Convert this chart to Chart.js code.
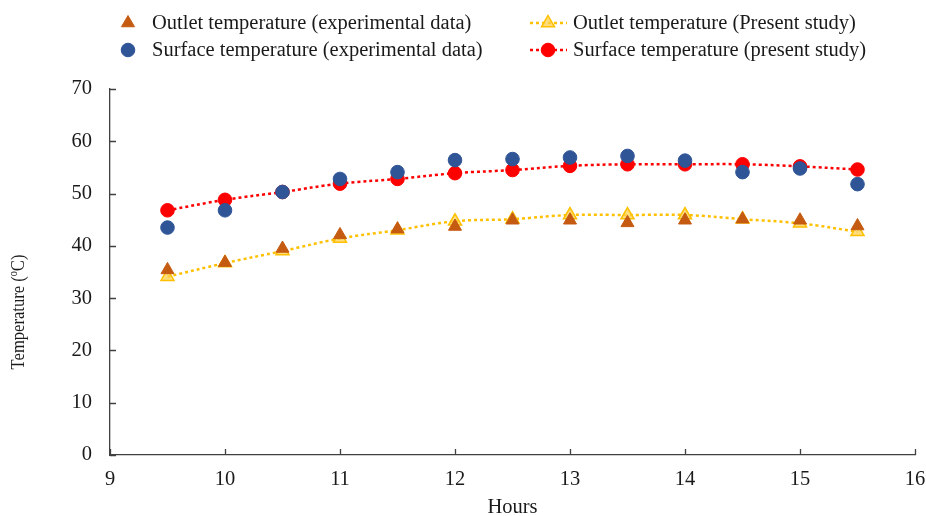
<!DOCTYPE html>
<html lang="en">
<head>
    <meta charset="UTF-8">
    <title>Outlet and surface temperature</title>
    <script src="https://cdn.jsdelivr.net/npm/chart.js"></script>
    <style>
        html, body { margin: 0; padding: 0; background: #fff; }
        .chart-box { width: 926px; height: 516px; position: relative; }
    </style>
</head>
<body>
    <div class="chart-box">
        <canvas id="tempChart"></canvas>
    </div>
    <script>
        // Hours of the day
        const hours = [9.5, 10, 10.5, 11, 11.5, 12, 12.5, 13, 13.5, 14, 14.5, 15, 15.5];

        // Measured values
        const outletExp  = [35.4, 36.8, 39.5, 42.1, 43.2, 43.7, 44.9, 44.9, 44.4, 44.9, 45.1, 44.9, 43.8];
        const surfaceExp = [43.5, 46.8, 50.3, 52.8, 54.1, 56.4, 56.6, 56.9, 57.2, 56.3, 54.1, 54.8, 51.8];

        // Model results
        const outletModel  = [34.1, 36.7, 39.0, 41.4, 43.0, 44.7, 45.1, 45.9, 45.9, 45.9, 45.1, 44.3, 42.7];
        const surfaceModel = [46.8, 48.8, 50.3, 51.9, 52.8, 53.9, 54.5, 55.3, 55.6, 55.6, 55.6, 55.2, 54.6];

        const xTicks = [9, 10, 11, 12, 13, 14, 15, 16];
        const yTicks = [0, 10, 20, 30, 40, 50, 60, 70];

        const FONT = 'Liberation Serif, Times New Roman, serif';
        const FONT_SIZE = 20.5;
        const TITLE_SIZE = 19.5;
        const TEXT_COLOR = '#1a1a1a';
        const AXIS_COLOR = '#404040';

        const toPoints = ys => hours.map((h, i) => ({ x: h, y: ys[i] }));

        const datasets = [
            {
                label: 'Outlet temperature (experimental data)',
                data: toPoints(outletExp),
                showLine: false,
                pointStyle: 'triangle',
                pointRadius: 7.5,
                backgroundColor: '#C55A11',
                borderColor: '#C55A11',
                borderWidth: 1,
                order: 0,
                legendCol: 0, legendRow: 0
            },
            {
                label: 'Surface temperature (experimental data)',
                data: toPoints(surfaceExp),
                showLine: false,
                pointStyle: 'circle',
                pointRadius: 6.8,
                backgroundColor: '#2F5597',
                borderColor: '#2F5597',
                borderWidth: 1,
                order: 0,
                legendCol: 0, legendRow: 1
            },
            {
                label: 'Outlet temperature (Present study)',
                data: toPoints(outletModel),
                showLine: true,
                tension: 0.4,
                borderDash: [3, 3],
                borderWidth: 2.5,
                borderColor: '#FFC000',
                pointStyle: 'triangle',
                pointRadius: 7.5,
                pointBackgroundColor: 'rgba(255, 210, 80, 0.75)',
                pointBorderColor: '#FFC000',
                pointBorderWidth: 1.5,
                order: 1,
                legendCol: 1, legendRow: 0
            },
            {
                label: 'Surface temperature (present study)',
                data: toPoints(surfaceModel),
                showLine: true,
                tension: 0.4,
                borderDash: [3, 3],
                borderWidth: 2.5,
                borderColor: '#FF0000',
                pointStyle: 'circle',
                pointRadius: 6.8,
                pointBackgroundColor: '#FF0000',
                pointBorderColor: '#FF0000',
                pointBorderWidth: 1,
                order: 1,
                legendCol: 1, legendRow: 1
            }
        ];

        // Two-column legend drawn above the plot
        const legendPlugin = {
            id: 'twoColLegend',
            afterDraw(chart) {
                const ctx = chart.ctx;
                const cols = [{ marker: 128, text: 152, line: null }, { marker: 548, text: 573, line: [530, 567] }];
                const rows = [23, 50];
                ctx.save();
                ctx.font = FONT_SIZE + 'px ' + FONT;
                ctx.textBaseline = 'middle';
                chart.data.datasets.forEach(ds => {
                    const c = cols[ds.legendCol];
                    const y = rows[ds.legendRow];
                    if (c.line) {
                        ctx.beginPath();
                        ctx.setLineDash(ds.borderDash);
                        ctx.lineWidth = ds.borderWidth;
                        ctx.strokeStyle = ds.borderColor;
                        ctx.moveTo(c.line[0], y);
                        ctx.lineTo(c.line[1], y);
                        ctx.stroke();
                        ctx.setLineDash([]);
                    }
                    ctx.fillStyle = ds.pointBackgroundColor || ds.backgroundColor;
                    ctx.strokeStyle = ds.pointBorderColor || ds.borderColor;
                    ctx.lineWidth = ds.pointBorderWidth || ds.borderWidth;
                    Chart.helpers.drawPoint(ctx, { pointStyle: ds.pointStyle, radius: ds.pointRadius, borderWidth: ctx.lineWidth }, c.marker, y);
                    ctx.fillStyle = TEXT_COLOR;
                    ctx.fillText(ds.label, c.text, y + 1);
                });
                ctx.restore();
            }
        };

        // Short tick marks pointing into the plot area
        const innerTicks = {
            id: 'innerTicks',
            afterDraw(chart) {
                const { ctx, chartArea, scales } = chart;
                ctx.save();
                ctx.strokeStyle = AXIS_COLOR;
                ctx.lineWidth = 1.3;
                ctx.beginPath();
                xTicks.forEach(v => {
                    const x = Math.round(scales.x.getPixelForValue(v)) + 0.5;
                    ctx.moveTo(x, chartArea.bottom);
                    ctx.lineTo(x, chartArea.bottom - 6);
                });
                yTicks.forEach(v => {
                    const y = Math.round(scales.y.getPixelForValue(v)) + 0.5;
                    ctx.moveTo(chartArea.left, y);
                    ctx.lineTo(chartArea.left + 6, y);
                });
                ctx.stroke();
                ctx.restore();
            }
        };

        // Y axis title with a raised small "o" for the degree sign
        const yTitle = {
            id: 'yTitle',
            afterDraw(chart) {
                const ctx = chart.ctx;
                const big = TITLE_SIZE + 'px ' + FONT;
                const small = Math.round(TITLE_SIZE * 0.62) + 'px ' + FONT;
                const parts = [
                    { t: 'Temperature (', f: big, dy: 0 },
                    { t: 'o', f: small, dy: -5 },
                    { t: 'C)', f: big, dy: 0 }
                ];
                ctx.save();
                let total = 0;
                parts.forEach(p => { ctx.font = p.f; p.w = ctx.measureText(p.t).width; total += p.w; });
                ctx.translate(19, 312);
                ctx.rotate(-Math.PI / 2);
                ctx.scale(0.85, 1);
                ctx.fillStyle = TEXT_COLOR;
                ctx.textBaseline = 'middle';
                let x = -total / 2;
                parts.forEach(p => {
                    ctx.font = p.f;
                    ctx.fillText(p.t, x, p.dy);
                    x += p.w;
                });
                ctx.restore();
            }
        };

        new Chart(document.getElementById('tempChart').getContext('2d'), {
            type: 'scatter',
            data: { datasets: datasets },
            options: {
                responsive: true,
                maintainAspectRatio: false,
                animation: false,
                layout: { padding: { top: 89, right: 11, left: 0, bottom: 0 } },
                plugins: {
                    legend: { display: false },
                    tooltip: { enabled: false }
                },
                scales: {
                    x: {
                        type: 'linear',
                        min: 9,
                        max: 16,
                        afterFit: s => { s.height = 61; s.paddingLeft = 0; s.paddingRight = 0; },
                        afterBuildTicks: s => { s.ticks = xTicks.map(v => ({ value: v })); },
                        border: { color: AXIS_COLOR, width: 1.3 },
                        grid: { display: false, drawTicks: false, tickLength: 0 },
                        ticks: { color: TEXT_COLOR, font: { family: FONT, size: FONT_SIZE }, padding: 12, maxRotation: 0 },
                        title: { display: true, text: 'Hours', color: TEXT_COLOR, font: { family: FONT, size: FONT_SIZE, lineHeight: 1 }, padding: { top: 0, bottom: -2 } }
                    },
                    y: {
                        min: 0,
                        max: 70,
                        afterFit: s => { s.width = 110; s.paddingTop = 0; s.paddingBottom = 0; },
                        afterBuildTicks: s => { s.ticks = yTicks.map(v => ({ value: v })); },
                        border: { color: AXIS_COLOR, width: 1.3 },
                        grid: { display: false, drawTicks: false, tickLength: 0 },
                        ticks: { color: TEXT_COLOR, font: { family: FONT, size: FONT_SIZE }, padding: 18 }
                    }
                }
            },
            plugins: [legendPlugin, innerTicks, yTitle]
        });
    </script>
</body>
</html>
